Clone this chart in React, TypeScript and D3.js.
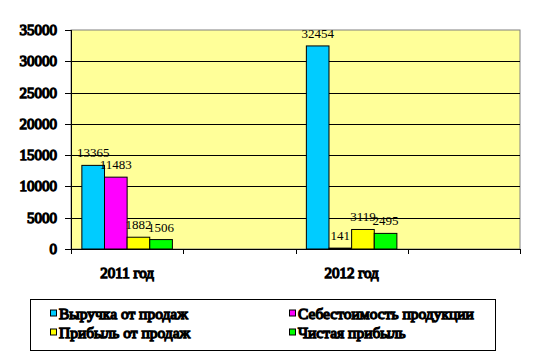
import React from "react";
import * as d3 from "d3";

const categories = ["2011 год", "", "2012 год", ""];
const seriesNames = ["Выручка от продаж", "Себестоимость продукции", "Прибыль от продаж", "Чистая прибыль"];
const seriesColors = ["#00CCFF", "#FF00FF", "#FFFF00", "#00FF00"];
const values2011 = [13365, 11483, 1882, 1506];
const values2012 = [32454, 141, 3119, 2495];
const categoryValues: (number[] | null)[] = [values2011, null, values2012, null];
const yTicks = [0, 5000, 10000, 15000, 20000, 25000, 30000, 35000];

const W = 537, H = 359;
const left = 71, right = 520, top = 30, bottom = 249;
const font = "Liberation Serif, Times New Roman, serif";

export default function App() {
  const x0 = d3.scaleBand<number>().domain(categories.map((_, i) => i)).range([left, right]).padding(0);
  const x1 = d3.scaleBand<number>().domain(seriesNames.map((_, i) => i)).range([0, x0.bandwidth()]).paddingInner(0).paddingOuter(0.48);
  const y = d3.scaleLinear().domain([0, 35000]).range([bottom, top]);
  const tickXs = [...categories.map((_, i) => x0(i)!), right];
  const heavy = { fontFamily: font, fontWeight: 400 as const, fill: "#000", stroke: "#000", strokeWidth: 1.3, paintOrder: "stroke" as const };

  return (
    <svg width={W} height={H} style={{ position: "absolute", left: 0, top: 0, display: "block" }}>
      <rect x={0} y={0} width={W} height={H} fill="#fff" />
      <rect x={left} y={top} width={right - left} height={bottom - top} fill="#FFFF99" stroke="#808080" strokeWidth={1} />
      {yTicks.filter(t => t > 0 && t < 35000).map(t => (
        <line key={t} x1={left} x2={right} y1={Math.round(y(t)) + 0.5} y2={Math.round(y(t)) + 0.5} stroke="#000" strokeWidth={1} />
      ))}
      <line x1={left + 0.5} x2={left + 0.5} y1={top} y2={bottom} stroke="#000" />
      <line x1={left} x2={right} y1={bottom + 0.5} y2={bottom + 0.5} stroke="#000" />
      {yTicks.map(t => (
        <g key={"yt" + t}>
          <line x1={left - 6} x2={left} y1={Math.round(y(t)) + 0.5} y2={Math.round(y(t)) + 0.5} stroke="#000" />
          <text x={57} y={y(t) + 5} textAnchor="end" fontSize={15} {...heavy}>{t}</text>
        </g>
      ))}
      {tickXs.map((tx, i) => (
        <line key={"xt" + i} x1={Math.round(tx) + 0.5} x2={Math.round(tx) + 0.5} y1={bottom} y2={bottom + 5} stroke="#000" />
      ))}
      {categories.map((c, i) => (
        <text key={"c" + i} x={x0(i)! + x0.bandwidth() / 2} y={278} textAnchor="middle" fontSize={15} {...heavy}>{c}</text>
      ))}
      {categoryValues.map((vals, ci) => vals && vals.map((v, si) => {
        const bx = x0(ci)! + x1(si)!;
        const by = y(v);
        return (
          <g key={ci + "-" + si}>
            <rect x={bx} y={by} width={x1.bandwidth()} height={bottom - by} fill={seriesColors[si]} stroke="#000" strokeWidth={1} />
            <text x={bx + x1.bandwidth() / 2} y={by - 8} textAnchor="middle" fontFamily={font} fontSize={13} fill="#000">{v}</text>
          </g>
        );
      }))}
      <rect x={30.5} y={299.5} width={465} height={51} fill="#fff" stroke="#000" />
      {seriesNames.map((s, i) => {
        const lx = i % 2 === 0 ? 50 : 289;
        const ly = i < 2 ? 313.5 : 332.5;
        return (
          <g key={"l" + i}>
            <rect x={lx + 0.5} y={ly - 3.5} width={6} height={6} fill={seriesColors[i]} stroke="#000" />
            <text x={lx + 9} y={ly + 5} fontSize={15.5} {...heavy}>{s}</text>
          </g>
        );
      })}
    </svg>
  );
}
